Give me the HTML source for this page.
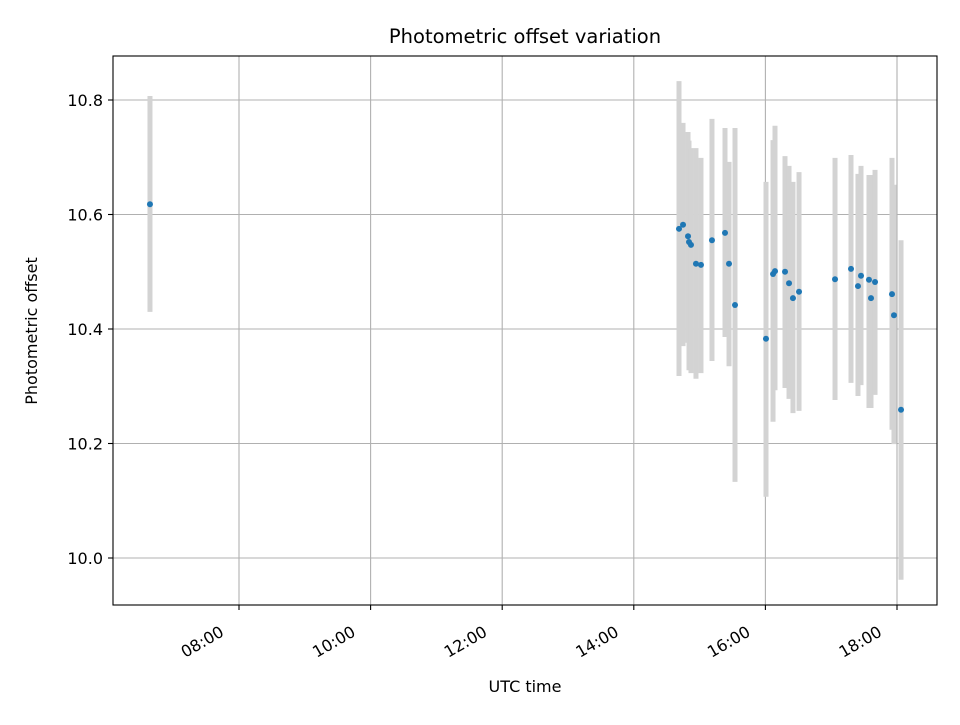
<!DOCTYPE html>
<html><head><meta charset="utf-8"><style>
body{margin:0;background:#fff}
svg text{font-family:"DejaVu Sans","Liberation Sans",sans-serif;fill:#000}
</style></head><body>
<svg id="chart" width="960" height="720" xmlns="http://www.w3.org/2000/svg">
<rect width="960" height="720" fill="#fff"/>
<g id="grid"></g>
<g id="bars"></g>
<g id="pts"></g>
<rect x="113" y="56" width="824" height="549" fill="none" stroke="#000" stroke-width="1.1"/>
<g id="ticks"></g>
<text x="525" y="43" font-size="19.5" text-anchor="middle">Photometric offset variation</text>
<text x="525" y="692" font-size="16" text-anchor="middle">UTC time</text>
<text transform="translate(37,331) rotate(-90)" font-size="16" text-anchor="middle">Photometric offset</text>
</svg>
<script>
const times=[6.647,14.687,14.748,14.824,14.839,14.869,14.945,15.021,15.188,15.386,15.447,15.538,16.009,16.116,16.146,16.298,16.359,16.419,16.511,17.058,17.301,17.407,17.453,17.574,17.605,17.666,17.924,17.954,18.061];
const values=[10.618,10.575,10.582,10.562,10.552,10.547,10.514,10.512,10.555,10.568,10.514,10.442,10.383,10.496,10.501,10.500,10.480,10.454,10.465,10.487,10.505,10.475,10.493,10.486,10.454,10.482,10.461,10.424,10.259];
const highs=[10.807,10.833,10.760,10.744,10.729,10.716,10.716,10.699,10.767,10.751,10.692,10.751,10.657,10.730,10.755,10.702,10.685,10.657,10.674,10.699,10.704,10.671,10.685,10.669,10.669,10.678,10.699,10.652,10.555];
const lows=[10.430,10.318,10.370,10.376,10.328,10.323,10.313,10.323,10.344,10.386,10.335,10.133,10.107,10.238,10.293,10.297,10.278,10.253,10.257,10.276,10.306,10.283,10.302,10.262,10.262,10.285,10.224,10.199,9.962];
const xTicks=[8,10,12,14,16,18];
const xTickLabels=["08:00","10:00","12:00","14:00","16:00","18:00"];
const yTicks=[10.0,10.2,10.4,10.6,10.8];
const yTickLabels=["10.0","10.2","10.4","10.6","10.8"];
const X=h=>239+(h-8)*65.8;
const Y=v=>558-(v-10.0)*572.5;
const NS="http://www.w3.org/2000/svg";
function mk(p,t,a){const e=document.createElementNS(NS,t);for(const k in a)e.setAttribute(k,a[k]);p.appendChild(e);return e;}
const grid=document.getElementById('grid'),ticks=document.getElementById('ticks');
xTicks.forEach((h,i)=>{
 const g=mk(grid,'line',{x1:X(h),x2:X(h),y1:56,y2:605,stroke:'#b0b0b0','stroke-width':1.1});
 
 
 const t=mk(ticks,'line',{x1:X(h),x2:X(h),y1:605,y2:610,stroke:'#000','stroke-width':1.1});
 
 
 const l=mk(ticks,'text',{'font-size':16,'text-anchor':'end',transform:`translate(${X(h)-14},${635}) rotate(-30)`});
 
 
 l.textContent=xTickLabels[i];
});
yTicks.forEach((v,i)=>{
 const g=mk(grid,'line',{x1:113,x2:937,y1:Y(v),y2:Y(v),stroke:'#b0b0b0','stroke-width':1.1});
 
 
 const t=mk(ticks,'line',{x1:108,x2:113,y1:Y(v),y2:Y(v),stroke:'#000','stroke-width':1.1});
 
 
 const l=mk(ticks,'text',{x:103,y:Y(v)+6,'font-size':16,'text-anchor':'end'});
 
 
 l.textContent=yTickLabels[i];
});
const bars=document.getElementById('bars'),pts=document.getElementById('pts');
times.forEach((h,i)=>{
 const b=mk(bars,'line',{x1:X(h),x2:X(h),y1:Y(highs[i]),y2:Y(lows[i]),stroke:'#d3d3d3','stroke-width':5});
 
 
 const c=mk(pts,'circle',{cx:X(h),cy:Y(values[i]),r:3,fill:'#1f77b4'});
 
 
});
</script>
</body></html>
